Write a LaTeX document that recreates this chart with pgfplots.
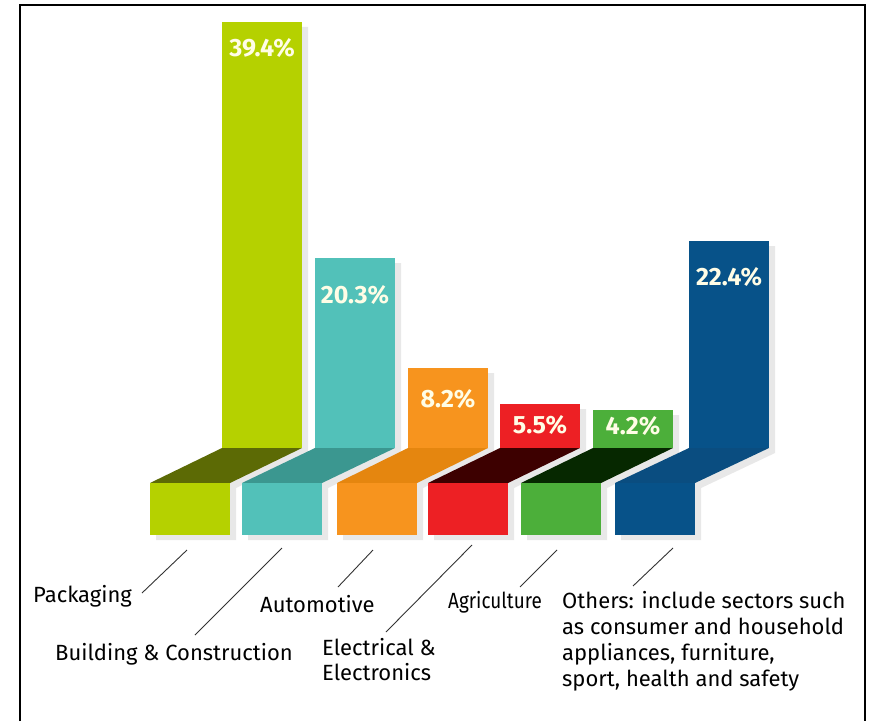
\documentclass[border=0pt]{standalone}
\usepackage{pgfplots}
\pgfplotsset{compat=1.18}
\usepackage{fontspec}
\setmainfont{Fira Sans}

\definecolor{lime}{HTML}{B5D100}\definecolor{limed}{HTML}{5C6A05}
\definecolor{teal}{HTML}{52C1B9}\definecolor{teald}{HTML}{3B9790}
\definecolor{orng}{HTML}{F7941E}\definecolor{orngd}{HTML}{E5860F}
\definecolor{rd}{HTML}{ED2024}\definecolor{rdd}{HTML}{3D0000}
\definecolor{grn}{HTML}{4CAF3A}\definecolor{grnd}{HTML}{062800}
\definecolor{blu}{HTML}{075289}\definecolor{blud}{HTML}{0A4D80}
\definecolor{shd}{HTML}{E8E8E8}
\definecolor{pct}{HTML}{FFFDE6}

\begin{document}
\begin{tikzpicture}
\begin{axis}[
    width=869pt, height=721pt, scale only axis,
    xmin=0, xmax=869, ymin=0, ymax=721,
    y dir=reverse,
    axis line style={draw=none}, ticks=none,
    axis background/.style={fill=white},
    clip=false,
]
% shadows (outline shifted 6,5)
\addplot[fill=shd, draw=none] coordinates {(228,27)(308,27)(308,453)(236,488)(236,540)(156,540)(156,488)(228,453)} --cycle;
\addplot[fill=shd, draw=none] coordinates {(321,263)(401,263)(401,453)(328,488)(328,540)(248,540)(248,488)(321,453)} --cycle;
\addplot[fill=shd, draw=none] coordinates {(414,373)(494,373)(494,453)(423,488)(423,540)(343,540)(343,488)(414,453)} --cycle;
\addplot[fill=shd, draw=none] coordinates {(506,409)(586,409)(586,453)(514,488)(514,540)(434,540)(434,488)(506,453)} --cycle;
\addplot[fill=shd, draw=none] coordinates {(599,415)(679,415)(679,453)(607,488)(607,540)(527,540)(527,488)(599,453)} --cycle;
\addplot[fill=shd, draw=none] coordinates {(695,246)(775,246)(775,453)(701,488)(701,540)(621,540)(621,488)(695,453)} --cycle;

% Packaging 39.4
\addplot[fill=lime, draw=none] coordinates {(222,22)(302,22)(302,448)(222,448)} --cycle;
\addplot[fill=limed, draw=none] coordinates {(222,448)(302,448)(230,483)(150,483)} --cycle;
\addplot[fill=lime, draw=none] coordinates {(150,483)(230,483)(230,535)(150,535)} --cycle;
% Building & Construction 20.3
\addplot[fill=teal, draw=none] coordinates {(315,258)(395,258)(395,448)(315,448)} --cycle;
\addplot[fill=teald, draw=none] coordinates {(315,448)(395,448)(322,483)(242,483)} --cycle;
\addplot[fill=teal, draw=none] coordinates {(242,483)(322,483)(322,535)(242,535)} --cycle;
% Automotive 8.2
\addplot[fill=orng, draw=none] coordinates {(408,368)(488,368)(488,448)(408,448)} --cycle;
\addplot[fill=orngd, draw=none] coordinates {(408,448)(488,448)(417,483)(337,483)} --cycle;
\addplot[fill=orng, draw=none] coordinates {(337,483)(417,483)(417,535)(337,535)} --cycle;
% Electrical & Electronics 5.5
\addplot[fill=rd, draw=none] coordinates {(500,404)(580,404)(580,448)(500,448)} --cycle;
\addplot[fill=rdd, draw=none] coordinates {(500,448)(580,448)(508,483)(428,483)} --cycle;
\addplot[fill=rd, draw=none] coordinates {(428,483)(508,483)(508,535)(428,535)} --cycle;
% Agriculture 4.2
\addplot[fill=grn, draw=none] coordinates {(593,410)(673,410)(673,448)(593,448)} --cycle;
\addplot[fill=grnd, draw=none] coordinates {(593,448)(673,448)(601,483)(521,483)} --cycle;
\addplot[fill=grn, draw=none] coordinates {(521,483)(601,483)(601,535)(521,535)} --cycle;
% Others 22.4
\addplot[fill=blu, draw=none] coordinates {(689,241)(769,241)(769,448)(689,448)} --cycle;
\addplot[fill=blud, draw=none] coordinates {(689,448)(769,448)(695,483)(615,483)} --cycle;
\addplot[fill=blu, draw=none] coordinates {(615,483)(695,483)(695,535)(615,535)} --cycle;

% percentage labels
\begin{scope}[every node/.style={anchor=base, text=pct, font=\bfseries\fontsize{25}{28}\selectfont, inner sep=0pt}]
\node at (axis cs:262,57) {39.4\%};
\node at (axis cs:355,303) {20.3\%};
\node at (axis cs:448,407) {8.2\%};
\node at (axis cs:540,433) {5.5\%};
\node at (axis cs:633,434) {4.2\%};
\node at (axis cs:729,285) {22.4\%};
\end{scope}

% leader lines
\begin{scope}[black!80, line width=0.9pt]
\draw (axis cs:187,550) -- (axis cs:142,593);
\draw (axis cs:282,548) -- (axis cs:195,635);
\draw (axis cs:373,550) -- (axis cs:338,587);
\draw (axis cs:472,545) -- (axis cs:386,632);
\draw (axis cs:557,550) -- (axis cs:520,587);
\draw (axis cs:673,548) -- (axis cs:633,586);
\end{scope}

% category labels
\begin{scope}[every node/.style={anchor=base west, inner sep=0pt, font=\fontsize{22}{26}\selectfont}]
\node at (axis cs:33,602) {Packaging};
\node at (axis cs:55,660) {Building \& Construction};
\node at (axis cs:260,612) {Automotive};
\node at (axis cs:322,655) {Electrical \&};
\node at (axis cs:322,680) {Electronics};
\node at (axis cs:448,608) {\scalebox{0.86}[1]{Agriculture}};
\node at (axis cs:562,608) {Others: include sectors such};
\node at (axis cs:562,634) {as consumer and household};
\node at (axis cs:562,660) {appliances, furniture,};
\node at (axis cs:562,686) {sport, health and safety};
\end{scope}

% frame
\draw[black, line width=2.2pt] (axis cs:20,721) -- (axis cs:20,5) -- (axis cs:865,5) -- (axis cs:865,721);
\end{axis}
\end{tikzpicture}
\end{document}
